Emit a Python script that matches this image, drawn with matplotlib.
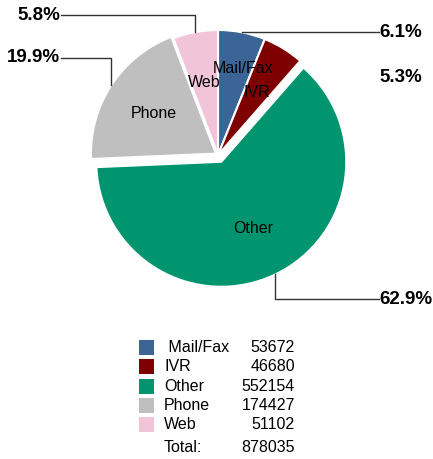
import numpy as np
import matplotlib.pyplot as plt
from matplotlib.patches import Rectangle

plt.rcParams['font.family'] = ['Liberation Sans', 'DejaVu Sans']

# Data
channels = ["Mail/Fax", "IVR", "Other", "Phone", "Web"]
counts = [53672, 46680, 552154, 174427, 51102]
colors = ["#3B6597", "#7F0000", "#00956F", "#BFBFBF", "#F2C4D8"]

W, H = 433, 459
fig = plt.figure(figsize=(W / 100, H / 100), dpi=100)
ax = fig.add_axes([0, 0, 1, 1])


def py(y):
    # pixel row (from top) -> data y
    return H - y


cx, cy, r = 218, py(155), 125
# offsets in pixels (pie does not scale explode by radius)
explode = [0.0, 0.0, 7.5, 2.5, 0.0]
wedges, texts = ax.pie(counts, colors=colors, explode=explode, startangle=90,
                       counterclock=False, center=(cx, cy), radius=r,
                       labels=channels, labeldistance=0.59,
                       textprops=dict(fontsize=11.5, color="black"),
                       wedgeprops=dict(edgecolor="white", linewidth=1.5),
                       frame=True)
ax.set_xlim(0, W)
ax.set_ylim(0, H)
ax.set_aspect("equal")
ax.axis("off")

for t in texts:
    t.set_ha("center")
    t.set_va("center")

# Mail/Fax label sits a bit further out and to the right
w0 = wedges[0]
a0 = np.deg2rad((w0.theta1 + w0.theta2) / 2 - 5)
texts[0].set_position((w0.center[0] + 0.72 * r * np.cos(a0),
                       w0.center[1] + 0.72 * r * np.sin(a0)))

total = sum(counts)
pcts = [100 * c / total for c in counts]


def edge_point(w):
    a = np.deg2rad((w.theta1 + w.theta2) / 2)
    return w.center[0] + w.r * np.cos(a), w.center[1] + w.r * np.sin(a)


lc = "#333333"
pct_style = dict(fontsize=13.5, fontweight="bold", va="center")

# Mail/Fax -> right
x0, y0 = edge_point(wedges[0])
ax.plot([x0, 379], [y0, y0], color=lc, lw=1)
ax.text(379, y0, f"{pcts[0]:.1f}%", ha="left", **pct_style)

# IVR (no leader)
ax.text(379, py(77), f"{pcts[1]:.1f}%", ha="left", **pct_style)

# Other -> right bottom
x2, y2 = edge_point(wedges[2])
ax.plot([x2, x2, 379], [y2, py(299), py(299)], color=lc, lw=1)
ax.text(379, py(299), f"{pcts[2]:.1f}%", ha="left", **pct_style)

# Phone -> left
x3, y3 = edge_point(wedges[3])
ax.plot([x3, x3, 61], [y3, py(58), py(58)], color=lc, lw=1)
ax.text(60, py(58), f"{pcts[3]:.1f}%", ha="right", **pct_style)

# Web -> left top
x4, y4 = edge_point(wedges[4])
ax.plot([x4, x4, 61], [y4, py(15), py(15)], color=lc, lw=1)
ax.text(60, py(15), f"{pcts[4]:.1f}%", ha="right", **pct_style)

# Legend table
row_y = 347.5
step = 19.3
for i, (name, c, col) in enumerate(zip(channels, counts, colors)):
    yc = py(row_y + i * step)
    ax.add_patch(Rectangle((139, yc - 7.5), 15, 15, facecolor=col, edgecolor="none"))
    label = " " + name if name == "Mail/Fax" else name
    ax.text(164, yc, label, ha="left", va="center", fontsize=11.5)
    ax.text(295, yc, str(c), ha="right", va="center", fontsize=11.5)
yt = py(row_y + 5 * step + 3)
ax.text(164, yt, "Total:", ha="left", va="center", fontsize=11.5)
ax.text(295, yt, str(total), ha="right", va="center", fontsize=11.5)

fig.savefig("out.png", dpi=100)
